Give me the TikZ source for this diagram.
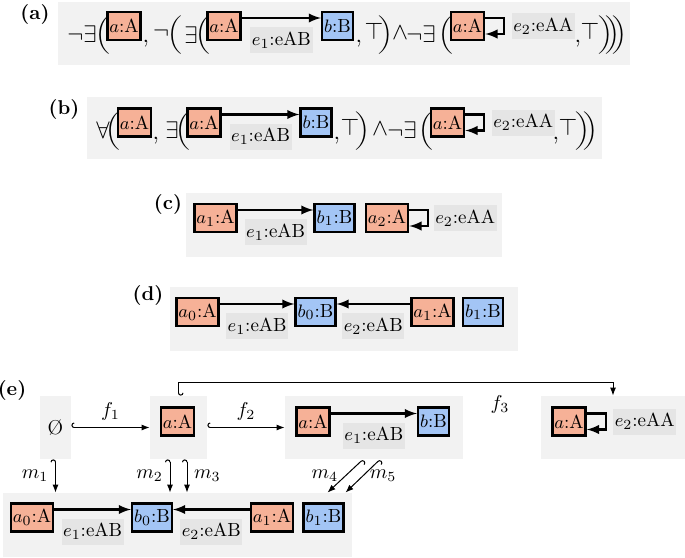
\documentclass[tikz,border=0pt]{standalone}
\usepackage{amssymb}
\usepackage{graphicx}
\usepackage{tikz}
\usetikzlibrary{positioning, arrows, arrows.meta, calc}
\definecolor{fillA}{RGB}{246,177,151}
\definecolor{fillB}{RGB}{163,197,245}
\definecolor{bggray}{RGB}{242,242,242}
\definecolor{lblgray}{RGB}{229,229,229}
\newcommand{\lpar}{\scalebox{1}[0.8]{$\bigg($}}
\newcommand{\rpar}{\scalebox{1}[0.8]{$\bigg)$}}

\begin{document}
\begin{tikzpicture}[x=0.5pt,y=-0.5pt]
		\tikzstyle{tA} = [draw=black, line width=1.2pt, fill=fillA, inner xsep=1pt, inner ysep=0pt, minimum height=14pt, font=\fontsize{9.5}{11}\selectfont]
		\tikzstyle{tB} = [tA, fill=fillB]
		\tikzstyle{elabel} = [fill=lblgray, inner xsep=0.8pt, inner ysep=0pt, minimum height=13pt, font=\fontsize{9.5}{11}\selectfont]
		\tikzstyle{panel} = [fill=bggray, inner sep=0pt]
		\tikzstyle{sym} = [inner sep=0pt, font=\large]
		\tikzstyle{paren} = [inner sep=0pt, font=\normalsize]
		\tikzstyle{tag} = [font=\bfseries]
		\tikzstyle{link} = [-latex, line width=1.1pt]
		\tikzstyle{morph} = [{Hooks[right]}-{Latex[length=4pt,width=3pt]}, line width=0.5pt]
		\tikzstyle{morphl} = [{Hooks[left]}-{Latex[length=4pt,width=3pt]}, line width=0.5pt]
		\useasboundingbox (0,0) rectangle (685,557);

		% (a)
		\node[tag] (ta) at (35,14) {(a)};
		\node[panel, minimum width=286pt, minimum height=31.5pt] (Pa) at (344,33.5) {};
		\node[sym] (na1) at (82,34) {$\neg\exists$};
		\node[paren] (pa1) at (103,35) {\lpar};
		\node[tA] (aa1) at (124,26) {$a$:A};
		\node[sym] (ca1) at (146,44) {,};
		\node[sym] (na2) at (161,33) {$\neg$};
		\node[paren] (pa2) at (175,35) {\lpar};
		\node[sym] (xa1) at (191,35) {$\exists$};
		\node[paren] (pa3) at (203,35) {\lpar};
		\node[tA] (aa2) at (224,26) {$a$:A};
		\node[tB] (ba1) at (337.5,26) {$b$:B};
		\draw[link] ([yshift=4pt]aa2.east) -- ([yshift=4pt]ba1.west) node[elabel, midway, below=4pt] {$e_1$:eAB};
		\node[sym] (ca2) at (359,44) {,};
		\node[sym] (ta1) at (374,31) {$\top$};
		\node[paren] (qa1) at (386,35) {\rpar};
		\node[sym] (wa1) at (400,33) {$\wedge$};
		\node[sym] (na3) at (421,34) {$\neg\exists$};
		\node[paren] (pa4) at (446,35) {\lpar};
		\node[tA] (aa3) at (467.5,26) {$a$:A};
		\draw[link] ([yshift=4pt]aa3.east) -- ++(19,0) |- ([yshift=-4pt]aa3.east);
		\node[elabel, right=13pt of aa3] (ea2) {$e_2$:eAA};
		\node[sym] (ca3) at (578,44) {,};
		\node[sym] (ta2) at (590,31) {$\top$};
		\node[paren] (qa2) at (606,35) {\rpar};
		\node[paren] (qa3) at (613,35) {\rpar};
		\node[paren] (qa4) at (620,35) {\rpar};

		% (b)
		\node[tag] (tb) at (64,109) {(b)};
		\node[panel, minimum width=257.5pt, minimum height=31pt] (Pb) at (344.5,128) {};
		\node[sym] (xb1) at (103,130) {$\forall$};
		\node[paren] (pb1) at (113,131) {\lpar};
		\node[tA] (ab1) at (134.5,122.5) {$a$:A};
		\node[sym] (cb1) at (156,141) {,};
		\node[sym] (xb2) at (172,130) {$\exists$};
		\node[paren] (pb2) at (183,131) {\lpar};
		\node[tA] (ab2) at (204,122.5) {$a$:A};
		\node[tB] (bb1) at (316,122.5) {$b$:B};
		\draw[link] ([yshift=4pt]ab2.east) -- ([yshift=4pt]bb1.west) node[elabel, midway, below=4pt] {$e_1$:eAB};
		\node[sym] (cb2) at (337,141) {,};
		\node[sym] (tb1) at (350,127) {$\top$};
		\node[paren] (qb1) at (363,131) {\rpar};
		\node[sym] (wb1) at (380,129) {$\wedge$};
		\node[sym] (nb1) at (402,130) {$\neg\exists$};
		\node[paren] (pb3) at (426,131) {\lpar};
		\node[tA] (ab3) at (447.5,122.5) {$a$:A};
		\draw[link] ([yshift=4pt]ab3.east) -- ++(19,0) |- ([yshift=-4pt]ab3.east);
		\node[elabel, right=13pt of ab3] (eb2) {$e_2$:eAA};
		\node[sym] (cb3) at (556,141) {,};
		\node[sym] (tb2) at (568,127) {$\top$};
		\node[paren] (qb2) at (583,131) {\rpar};
		\node[paren] (qb3) at (591,131) {\rpar};

		% (c)
		\node[tag] (tc) at (168,204) {(c)};
		\node[panel, minimum width=158pt, minimum height=32pt] (Pc) at (344,225) {};
		\node[tA] (ac1) at (215.5,218) {$a_1$:A};
		\node[tB] (bc1) at (334.5,218) {$b_1$:B};
		\node[tA] (ac2) at (387,218) {$a_2$:A};
		\draw[link] ([yshift=4pt]ac1.east) -- ([yshift=4pt]bc1.west) node[elabel, midway, below=4pt] {$e_1$:eAB};
		\draw[link] ([yshift=4pt]ac2.east) -- ++(19,0) |- ([yshift=-4pt]ac2.east);
		\node[elabel, right=12pt of ac2] (ec2) {$e_2$:eAA};

		% (d)
		\node[tag] (td) at (148,295) {(d)};
		\node[panel, minimum width=174pt, minimum height=32pt] (Pd) at (344,319) {};
		\node[tA] (ad0) at (197.5,312) {$a_0$:A};
		\node[tB] (bd0) at (315.5,312) {$b_0$:B};
		\node[tA] (ad1) at (432.5,312) {$a_1$:A};
		\node[tB] (bd1) at (483,312) {$b_1$:B};
		\draw[link] ([yshift=4pt]ad0.east) -- ([yshift=4pt]bd0.west) node[elabel, midway, below=4pt] {$e_1$:eAB};
		\draw[link] ([yshift=4pt]ad1.west) -- ([yshift=4pt]bd0.east) node[elabel, midway, below=4pt] {$e_2$:eAB};

		% (e)
		\node[tag] (te) at (12,390) {(e)};
		\node[panel, minimum width=15.5pt, minimum height=31.5pt] (G0) at (55.5,427.5) {Ø};
		\node[panel, minimum width=28.5pt, minimum height=31.5pt] (G1) at (178.5,427.5) {};
		\node[panel, minimum width=89pt, minimum height=31.5pt] (G2) at (374,427.5) {};
		\node[panel, minimum width=72pt, minimum height=31.5pt] (G3) at (613,427.5) {};
		\node[panel, minimum width=174.5pt, minimum height=32pt] (H) at (177.5,525) {};

		\node[tA] (ag1) at (177.5,421.5) {$a$:A};
		\node[tA] (ag2) at (313,421.5) {$a$:A};
		\node[tB] (bg2) at (433.5,421.5) {$b$:B};
		\draw[link] ([yshift=4pt]ag2.east) -- ([yshift=4pt]bg2.west) node[elabel, midway, below=4pt] {$e_1$:eAB};
		\node[tA] (ag3) at (569,421.5) {$a$:A};
		\draw[link] ([yshift=4pt]ag3.east) -- ++(19,0) |- ([yshift=-4pt]ag3.east);
		\node[elabel, right=13pt of ag3] (eg3) {$e_2$:eAA};

		\node[tA] (ah0) at (32,517.5) {$a_0$:A};
		\node[tB] (bh0) at (152,517.5) {$b_0$:B};
		\node[tA] (ah1) at (272,517.5) {$a_1$:A};
		\node[tB] (bh1) at (323.5,517.5) {$b_1$:B};
		\draw[link] ([yshift=4pt]ah0.east) -- ([yshift=4pt]bh0.west) node[elabel, midway, below=4pt] {$e_1$:eAB};
		\draw[link] ([yshift=4pt]ah1.west) -- ([yshift=4pt]bh0.east) node[elabel, midway, below=4pt] {$e_2$:eAB};

		% morphisms
		\draw[morph] (G0) -- (G1) node[midway, above] {$f_1$};
		\draw[morph] (G1) -- (G2) node[midway, above] {$f_2$};
		\draw[morphl] (G1.north) |- ($(G3.north)+(0,-13)$) node[pos=0.87, below=3pt] {$f_3$} -- (G3.north);
		\draw[morphl] (G0.south) -- (G0.south |- H.north) node[midway, left] {$m_1$};
		\draw[morphl] ([xshift=-4.25pt]G1.south) -- ([xshift=-4.25pt]G1.south |- H.north) node[midway, left] {$m_2$};
		\draw[morphl] ([xshift=4.25pt]G1.south) -- ([xshift=4.25pt]G1.south |- H.north) node[midway, right] {$m_3$};
		\draw[morph] ([xshift=-5.5pt]G2.south) -- ([xshift=75pt]H.north) node[midway, left] {$m_4$};
		\draw[morph] ([xshift=3pt]G2.south) -- ([xshift=84pt]H.north) node[midway, right] {$m_5$};
\end{tikzpicture}
\end{document}
